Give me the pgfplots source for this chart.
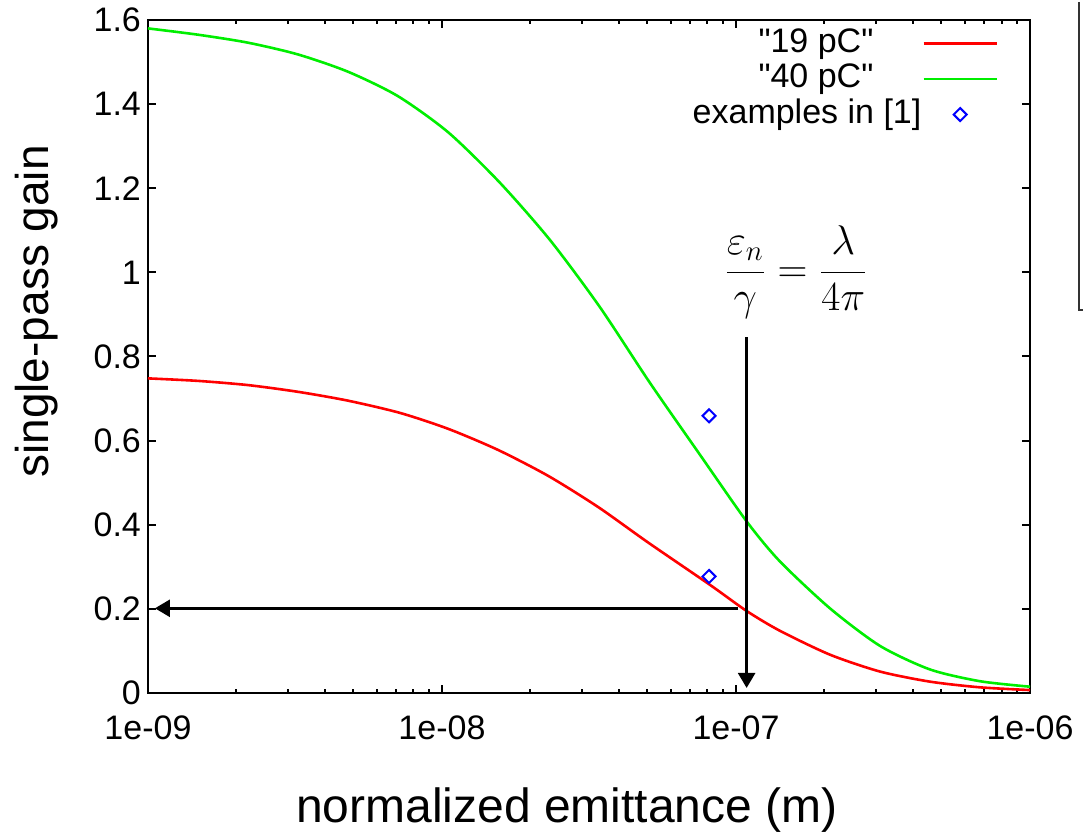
\documentclass[border=0pt]{standalone}
\usepackage{fontspec}
\setmainfont{Liberation Sans}[Ligatures=TeXOff]
\usepackage{pgfplots}
\pgfplotsset{compat=1.18}
\usetikzlibrary{arrows.meta}

\definecolor{gpred}{RGB}{255,0,0}
\definecolor{gpgreen}{RGB}{0,238,0}
\definecolor{gpblue}{RGB}{0,0,255}

\pgfplotsset{
  linelegend/.style={legend image code/.code={\draw[##1] (0pt,0pt) -- (36.5pt,0pt);}},
  marklegend/.style={legend image code/.code={\draw[mark repeat=2, mark phase=2, ##1]
      plot coordinates {(0pt,0pt) (18.25pt,0pt) (36.5pt,0pt)};}},
}

\begin{document}
\begin{tikzpicture}
\begin{axis}[
  xmode=log,
  scale only axis, width=441pt, height=336.5pt,
  xmin=1e-9, xmax=1e-6, ymin=0, ymax=1.6,
  axis line style={line width=1pt},
  every tick/.style={black, line width=1pt},
  major tick length=4pt, minor tick length=2pt,
  tick align=inside,
  xtick={1e-9,1e-8,1e-7,1e-6},
  xticklabels={1e-09,1e-08,1e-07,1e-06},
  ytick={0,0.2,0.4,0.6,0.8,1,1.2,1.4,1.6},
  yticklabels={0,0.2,0.4,0.6,0.8,1,1.2,1.4,1.6},
  tick label style={font=\fontsize{17}{20}\selectfont},
  xticklabel style={yshift=-8pt},
  xlabel={normalized emittance (m)},
  ylabel={single-pass gain},
  xlabel style={font=\fontsize{24}{28}\selectfont,
    at={(axis description cs:0.475,-0.174)}, anchor=center},
  ylabel style={font=\fontsize{23}{27}\selectfont,
    at={(axis description cs:-0.126,0.567)}, anchor=center},
  clip=false,
  legend style={draw=none, fill=none, inner sep=0pt, outer sep=0pt,
    at={(rel axis cs:0.9637,0.991)}, anchor=north east,
    font=\fontsize{17}{20}\selectfont,
    legend plot pos=right, legend cell align=right,
    column sep=0pt, row sep=0.25pt,
    nodes={inner sep=0.5pt, text height=12.5pt, text depth=4pt}},
]
  % 19 pC
  \addplot[gpred, line width=1.3pt, smooth, tension=0.45, linelegend]
    coordinates {
      (1e-9,0.748) (1.48e-9,0.742) (2.19e-9,0.732) (3.24e-9,0.716)
      (4.79e-9,0.695) (7.19e-9,0.666) (1.05e-8,0.628) (1.55e-8,0.578)
      (2.3e-8,0.516) (3.4e-8,0.442) (5.02e-8,0.358) (8.2e-8,0.256)
      (1.087e-7,0.195) (1.41e-7,0.148) (2.09e-7,0.091) (3.09e-7,0.051)
      (4.57e-7,0.027) (6.76e-7,0.0135) (1e-6,0.007)
    };
  \addlegendentry{"19 pC"\hspace*{24pt}}

  % 40 pC
  \addplot[gpgreen, line width=1.3pt, smooth, tension=0.45, linelegend]
    coordinates {
      (1e-9,1.580) (1.48e-9,1.565) (2.19e-9,1.546) (3.24e-9,1.518)
      (4.79e-9,1.477) (7.08e-9,1.419) (1.05e-8,1.333) (1.57e-8,1.214)
      (2.33e-8,1.077) (3.44e-8,0.918) (5.09e-8,0.738) (7.55e-8,0.566)
      (1.087e-7,0.408) (1.41e-7,0.313) (2.09e-7,0.201) (3.09e-7,0.112)
      (4.57e-7,0.056) (6.76e-7,0.028) (1e-6,0.015)
    };
  \addlegendentry{"40 pC"\hspace*{24pt}}

  % examples
  \addplot[gpblue, only marks, mark=square, mark size=2.3pt,
    mark options={rotate=45, line width=1pt}, marklegend]
    coordinates {(8.1e-8,0.659) (8.1e-8,0.277)};
  \addlegendentry{examples in [1]}

  % annotation arrows
  \addplot[black, line width=1.3pt, -{Triangle[length=7.5pt,width=8.5pt]}, forget plot]
    coordinates {(1.087e-7,0.846) (1.087e-7,0.012)};
  \addplot[black, line width=1.3pt, -{Triangle[length=7.5pt,width=8.5pt]}, forget plot]
    coordinates {(1.016e-7,0.2014) (1.056e-9,0.2014)};

  \node[font=\fontsize{21}{25}\selectfont] at (axis cs:1.6e-7,1.0)
    {$\displaystyle\frac{\varepsilon_n}{\gamma}=\frac{\lambda}{4\pi}$};

  % cut-off frame at the right edge
  \draw[line width=1pt, black!80] (rel axis cs:1.0556,1.027) -- (rel axis cs:1.0556,0.569)
    -- (rel axis cs:1.06,0.569);

  \path (rel axis cs:-0.1678,-0.2065) rectangle (rel axis cs:1.0612,1.0297);
\end{axis}
\end{tikzpicture}
\end{document}
